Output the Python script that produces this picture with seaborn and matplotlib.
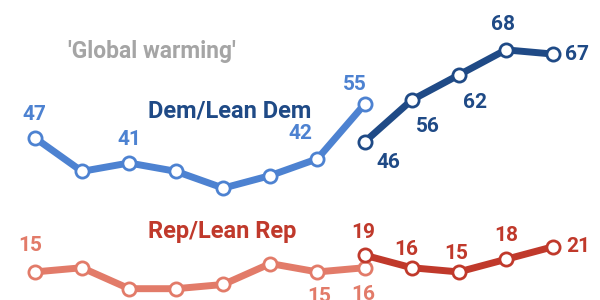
import pandas as pd
import seaborn as sns
import matplotlib.pyplot as plt

# survey points (index along the x axis)
dem_old_x = [0, 1, 2, 3, 4, 5, 6, 7]
dem_old = [47, 39, 41, 39, 35, 38, 42, 55]
dem_new_x = [7, 8, 9, 10, 11]
dem_new = [46, 56, 62, 68, 67]
rep_old_x = [0, 1, 2, 3, 4, 5, 6, 7]
rep_old = [15, 16, 11, 11, 12, 17, 15, 16]
rep_new_x = [7, 8, 9, 10, 11]
rep_new = [19, 16, 15, 18, 21]

# which points get a number, and where it goes (dx, dy in points)
dem_old_lab = {0: (0, 17), 2: (0, 17), 6: (-12, 18), 7: (-7, 14)}
dem_new_lab = {0: (17, -15), 1: (12, -19), 2: (12, -20), 3: (-2, 18), 4: (17, 0)}
rep_old_lab = {0: (-3, 19), 6: (1, -18), 7: (-1, -19)}
rep_new_lab = {0: (-1, 16), 1: (-4, 13), 2: (-2, 13), 3: (0, 17), 4: (18, 0)}

c_dem_old = "#4d82d1"
c_dem_new = "#1f4a86"
c_rep_old = "#e27b69"
c_rep_new = "#c0392b"

sns.set_style("white")
plt.rcParams['font.family'] = ['Roboto', 'DejaVu Sans']

fig = plt.figure(figsize=(6, 3), dpi=100)
ax = fig.add_axes([0, 0, 1, 1])

series = [
    (dem_old_x, dem_old, c_dem_old, dem_old_lab),
    (dem_new_x, dem_new, c_dem_new, dem_new_lab),
    (rep_old_x, rep_old, c_rep_old, rep_old_lab),
    (rep_new_x, rep_new, c_rep_new, rep_new_lab),
]
for xs, ys, col, labs in series:
    df = pd.DataFrame({"x": xs, "y": ys})
    sns.lineplot(data=df, x="x", y="y", ax=ax, color=col, linewidth=5,
                 marker="o", markersize=9.5, markerfacecolor="white",
                 markeredgecolor=col, markeredgewidth=2)
    for i, (dx, dy) in labs.items():
        ax.annotate(str(ys[i]), (xs[i], ys[i]), xytext=(dx, dy),
                    textcoords="offset points", ha="center", va="center",
                    color=col, fontsize=15, fontweight="bold")

ax.text(0.7, 67.5, "'Global warming'", color="#a5a5a5", fontsize=16.5,
        fontweight="bold", ha="left", va="center")
ax.text(2.4, 53.4, "Dem/Lean Dem", color=c_dem_new, fontsize=17,
        fontweight="bold", ha="left", va="center")
ax.text(2.4, 24.6, "Rep/Lean Rep", color=c_rep_new, fontsize=17,
        fontweight="bold", ha="left", va="center")

ax.set_xlim(-0.74, 12.0)
ax.set_ylim(8.3, 79.9)
ax.axis("off")
fig.savefig("out.png", dpi=100)
